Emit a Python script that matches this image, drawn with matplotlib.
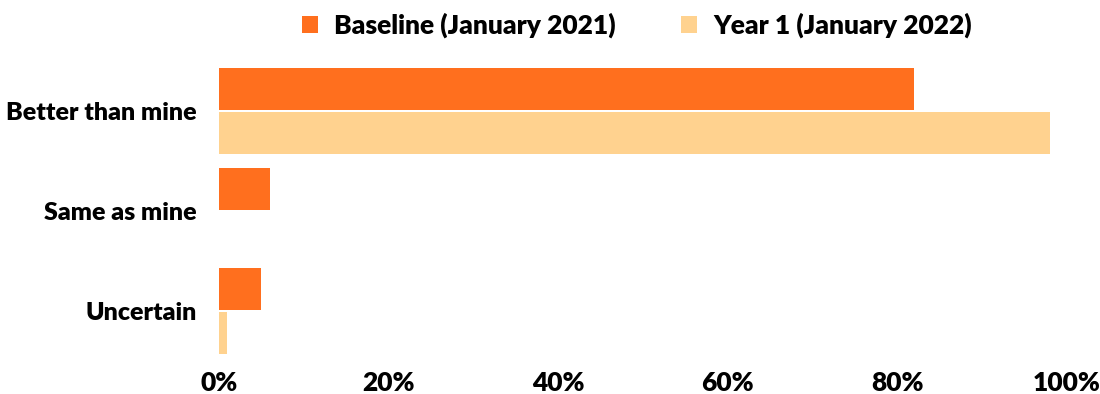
import matplotlib.pyplot as plt
import numpy as np

categories = ["Better than mine", "Same as mine", "Uncertain"]
baseline = [82, 6, 5]
year1 = [98, 0, 1]
series_names = ["Baseline (January 2021)", "Year 1 (January 2022)"]
x_ticks = [0, 20, 40, 60, 80, 100]

ORANGE = "#FF6F1E"
PEACH = "#FFD28F"

plt.rcParams["font.family"] = ["Lato", "DejaVu Sans"]

fig = plt.figure(figsize=(11, 3.94), dpi=100)
ax = fig.add_axes([0.199, 0.084, 0.771, 0.761])

y = np.arange(len(categories))
h = 0.42
ax.barh(y - h / 2 - 0.01, baseline, height=h, color=ORANGE, label=series_names[0])
ax.barh(y + h / 2 + 0.01, year1, height=h, color=PEACH, label=series_names[1])

ax.set_xlim(0, 100)
ax.set_ylim(2.5, -0.5)
ax.set_yticks(y)
ax.set_yticklabels(categories, fontsize=18, fontweight="heavy")
ax.set_xticks(x_ticks)
ax.set_xticklabels([f"{t}%" for t in x_ticks], fontsize=19, fontweight="heavy")
ax.tick_params(axis="y", length=0, pad=16)
ax.tick_params(axis="x", length=0, pad=7)
for s in ax.spines.values():
    s.set_visible(False)

fig.legend(loc="upper center", bbox_to_anchor=(0.579, 1.028), ncol=2, frameon=False,
           handlelength=0.6, handleheight=0.6, columnspacing=2.5,
           handletextpad=0.6, prop={"weight": "heavy", "size": 19})

fig.savefig("out.png", dpi=100)
